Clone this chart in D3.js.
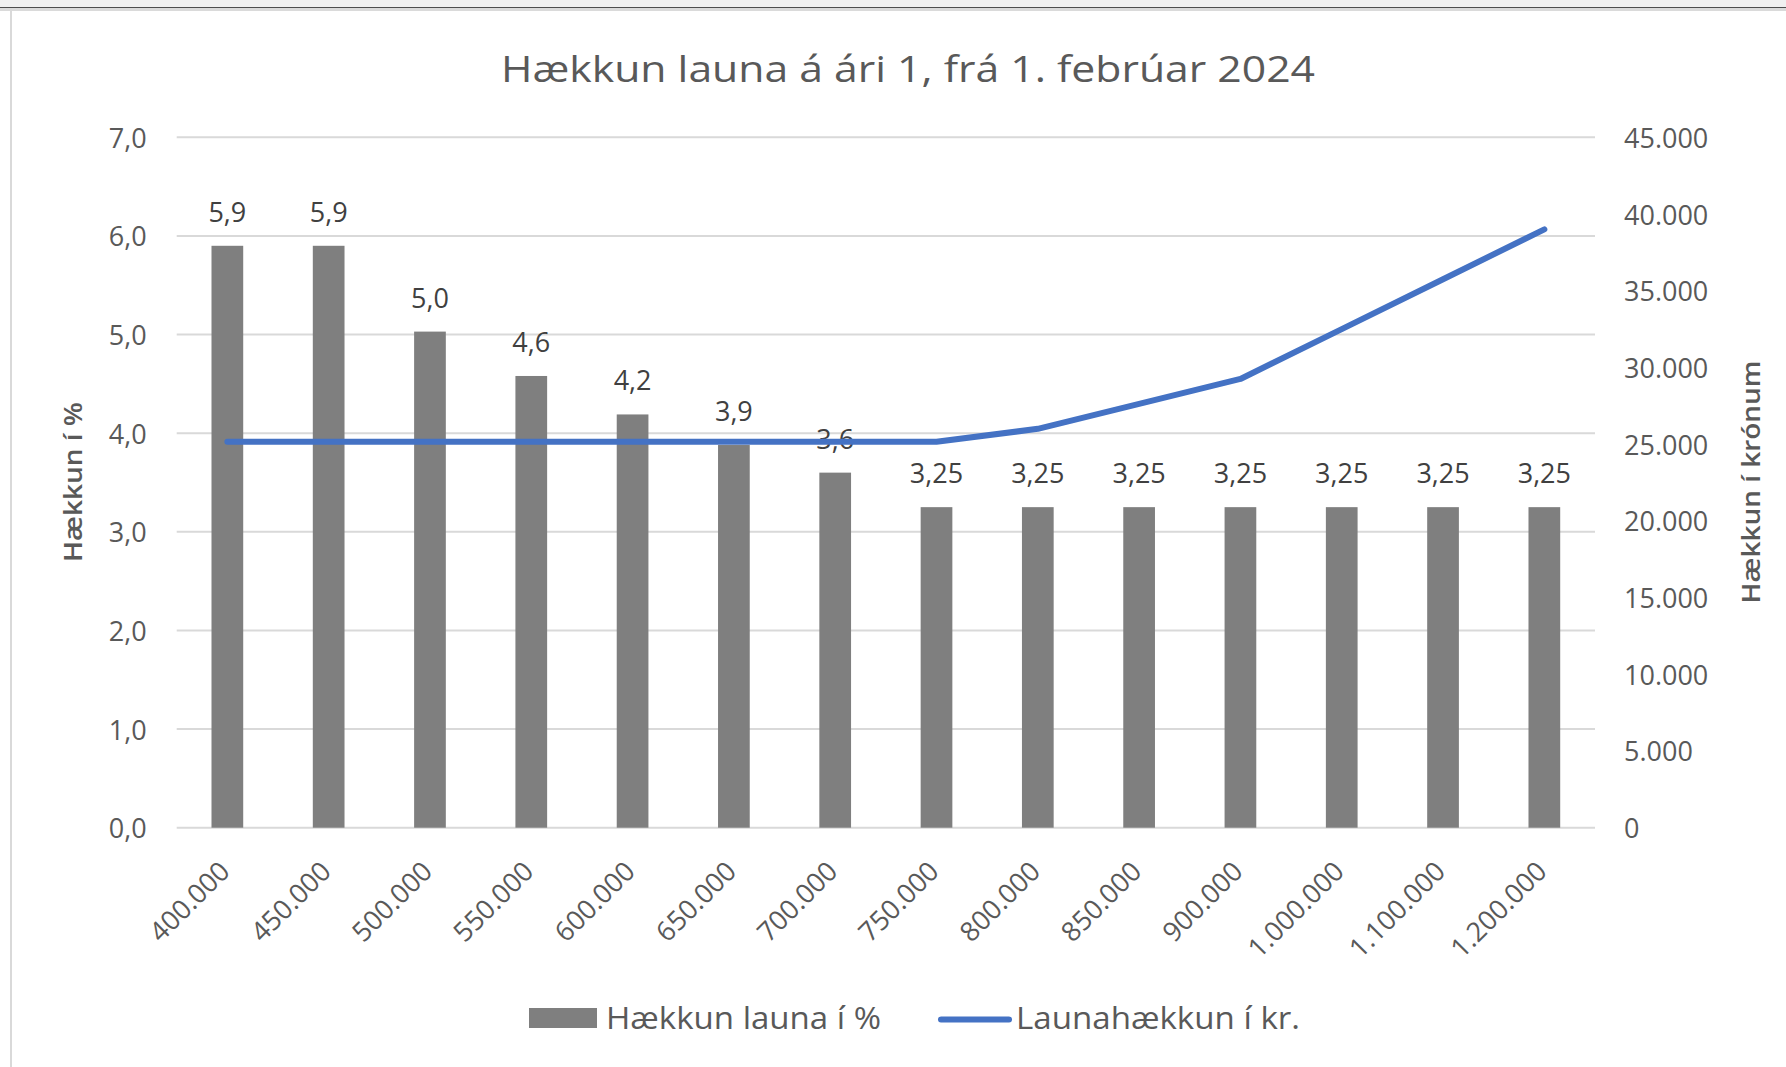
<!DOCTYPE html>
<html><head><meta charset="utf-8">
<script src="https://cdn.jsdelivr.net/npm/d3@7"></script>
<style>body{margin:0;background:#fff;}svg{display:block;}</style>
</head><body>
<svg id="chart" width="1786" height="1067"></svg>
<script>
const title = "Hækkun launa á ári 1, frá 1. febrúar 2024";
const categories = [400000,450000,500000,550000,600000,650000,700000,750000,800000,850000,900000,1000000,1100000,1200000];
const pctValues = [5.9,5.9,5.03,4.58,4.19,3.88,3.6,3.25,3.25,3.25,3.25,3.25,3.25,3.25];
const pctLabels = ["5,9","5,9","5,0","4,6","4,2","3,9","3,6","3,25","3,25","3,25","3,25","3,25","3,25","3,25"];
const krValues = [25150,25150,25150,25150,25150,25150,25150,25150,26000,27625,29250,32500,35750,39000];
const leftTicks = [0,1,2,3,4,5,6,7];
const rightTicks = [0,5000,10000,15000,20000,25000,30000,35000,40000,45000];
const seriesNames = ["Hækkun launa í %","Launahækkun í kr."];
const leftAxisTitle = "Hækkun í %";
const rightAxisTitle = "Hækkun í krónum";

const loc = d3.formatLocale({decimal:",", thousands:".", grouping:[3], currency:["","kr"]});
const fmtThousands = loc.format(",");
const fmtPct = loc.format(".1f");

const svg = d3.select("#chart");
const FONT = "'Open Sans', Lato, sans-serif";
const TXT = "#595959";

// frame
svg.append("rect").attr("x",0).attr("y",0).attr("width",1786).attr("height",7).attr("fill","#f0f0f0");
svg.append("rect").attr("x",0).attr("y",7).attr("width",1786).attr("height",1).attr("fill","#4d4d4d");
svg.append("rect").attr("x",0).attr("y",8).attr("width",1786).attr("height",3).attr("fill","#dadada");
svg.append("rect").attr("x",10).attr("y",8).attr("width",2).attr("height",1059).attr("fill","#d9d9d9");

const plot = {left:176.7, right:1595, top:137.3, bottom:827.7};

const x = d3.scaleBand().domain(categories).range([plot.left, plot.right]).paddingInner(0.687).paddingOuter(0.3435);
const yL = d3.scaleLinear().domain([0,7]).range([plot.bottom, plot.top]);
const yR = d3.scaleLinear().domain([0,45000]).range([plot.bottom, plot.top]);
const cx = d => x(d) + x.bandwidth()/2;

// gridlines
svg.append("g").selectAll("line").data(leftTicks).join("line")
  .attr("x1",plot.left).attr("x2",plot.right)
  .attr("y1",d=>yL(d)).attr("y2",d=>yL(d))
  .attr("stroke","#d9d9d9").attr("stroke-width",2);

// left axis
const gL = svg.append("g").attr("transform",`translate(${plot.left},0)`)
  .call(d3.axisLeft(yL).tickValues(leftTicks).tickSize(0).tickPadding(30).tickFormat(fmtPct));
gL.select(".domain").remove();
gL.selectAll("text").attr("font-family",FONT).attr("font-size",27).attr("fill",TXT).attr("dy","0.37em");

// right axis
const gR = svg.append("g").attr("transform",`translate(${plot.right},0)`)
  .call(d3.axisRight(yR).tickValues(rightTicks).tickSize(0).tickPadding(29).tickFormat(fmtThousands));
gR.select(".domain").remove();
gR.selectAll("text").attr("font-family",FONT).attr("font-size",27).attr("fill",TXT).attr("dy","0.37em");

// x axis labels
svg.append("g").selectAll("text").data(categories).join("text")
  .attr("transform",d=>`translate(${cx(d)+4},873) rotate(-45)`)
  .attr("text-anchor","end")
  .attr("font-family",FONT).attr("font-size",27).attr("fill",TXT)
  .text(d=>fmtThousands(d));

// bars
svg.append("g").selectAll("rect").data(categories).join("rect")
  .attr("x",d=>x(d)).attr("width",x.bandwidth())
  .attr("y",(d,i)=>yL(pctValues[i])).attr("height",(d,i)=>plot.bottom - yL(pctValues[i]))
  .attr("fill","#7f7f7f");

// data labels
svg.append("g").selectAll("text").data(categories).join("text")
  .attr("x",d=>cx(d)).attr("y",(d,i)=>yL(pctValues[i]) - 24)
  .attr("text-anchor","middle")
  .attr("font-family",FONT).attr("font-size",27).attr("fill","#404040")
  .text((d,i)=>pctLabels[i]);

// line
const line = d3.line().x((d,i)=>cx(categories[i])).y(d=>yR(d));
svg.append("path").datum(krValues).attr("d",line)
  .attr("fill","none").attr("stroke","#4472c4").attr("stroke-width",6)
  .attr("stroke-linecap","round").attr("stroke-linejoin","round");

// title
svg.append("text").attr("x",908).attr("y",82).attr("text-anchor","middle")
  .attr("font-family",FONT).attr("font-size",37).attr("fill",TXT)
  .attr("textLength",814).attr("lengthAdjust","spacingAndGlyphs")
  .text(title);

// axis titles
svg.append("text").attr("transform","translate(82,482) rotate(-90)").attr("text-anchor","middle")
  .attr("font-family",FONT).attr("font-size",25).attr("font-weight",600).attr("fill",TXT)
  .attr("textLength",160).attr("lengthAdjust","spacingAndGlyphs")
  .text(leftAxisTitle);
svg.append("text").attr("transform","translate(1760,482) rotate(-90)").attr("text-anchor","middle")
  .attr("font-family",FONT).attr("font-size",25).attr("font-weight",600).attr("fill",TXT)
  .attr("textLength",243).attr("lengthAdjust","spacingAndGlyphs")
  .text(rightAxisTitle);

// legend
const lg = svg.append("g");
lg.append("rect").attr("x",529).attr("y",1008).attr("width",68).attr("height",20).attr("fill","#7f7f7f");
lg.append("text").attr("x",606).attr("y",1029)
  .attr("font-family",FONT).attr("font-size",31).attr("fill",TXT)
  .attr("textLength",275).attr("lengthAdjust","spacingAndGlyphs")
  .text(seriesNames[0]);
lg.append("line").attr("x1",941).attr("x2",1009).attr("y1",1019.5).attr("y2",1019.5)
  .attr("stroke","#4472c4").attr("stroke-width",6).attr("stroke-linecap","round");
lg.append("text").attr("x",1016).attr("y",1029)
  .attr("font-family",FONT).attr("font-size",31).attr("fill",TXT)
  .attr("textLength",284).attr("lengthAdjust","spacingAndGlyphs")
  .text(seriesNames[1]);
</script>
</body></html>
